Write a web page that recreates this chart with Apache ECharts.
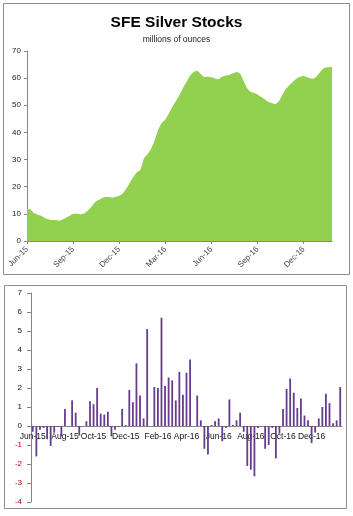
<!DOCTYPE html>
<html>
<head>
<meta charset="utf-8">
<script src="https://cdn.jsdelivr.net/npm/echarts@6/dist/echarts.min.js"></script>
<style>
  html, body { margin: 0; padding: 0; background: #fff; }
  #chart { width: 353px; height: 516px; }
</style>
</head>
<body>
<div id="chart"></div>
<script>
// weekly observations, first week 5 Jun 2015
var firstWeek = '2015-06-05';
var weekCount = 87;

// SFE silver stocks (millions of ounces)
var stocks = [
  11.8, 11.6, 10.2, 9.7, 9.3, 8.5, 8.0, 7.7, 7.7, 7.5,
  7.9, 8.6, 9.2, 10.0, 10.0, 9.8, 10.1, 11.0, 12.3, 14.0,
  15.0, 15.7, 16.2, 16.2, 16.0, 16.3, 16.7, 17.5, 19.3, 21.5,
  23.6, 25.3, 26.3, 30.5, 32.0, 34.0, 37.0, 41.0, 43.5, 44.8,
  47.0, 49.5, 51.6, 53.8, 56.5, 58.7, 61.0, 62.3, 62.6, 61.5,
  60.4, 60.5, 60.3, 59.9, 59.6, 60.5, 61.0, 61.2, 61.7, 62.3,
  61.8, 59.2, 56.5, 55.0, 54.5, 54.0, 53.1, 52.2, 51.3, 50.8,
  50.4, 51.5, 53.8, 56.0, 57.5, 58.7, 59.9, 60.5, 60.8, 60.3,
  59.9, 60.0, 61.2, 62.8, 63.8, 64.0, 64.2
];

// weekly change (millions of ounces)
var changes = [
  -0.3, -1.6, -0.2, -0.1, -0.7, -1.05, -0.35, -0.05, -0.55, 0.9,
  0, 1.35, 0.7, -0.5, 0, 0.25, 1.3, 1.15, 2.0, 0.65,
  0.6, 0.75, -0.55, -0.2, -0.05, 0.9, 0.05, 1.9, 1.25, 3.3,
  1.6, 0.4, 5.1, 0, 2.05, 2.0, 5.7, 2.1, 2.55, 2.4,
  1.35, 2.85, 1.65, 2.8, 3.5, 0, 1.6, 0.3, -1.2, -1.5,
  0.05, 0.25, 0.4, -0.8, -0.1, 1.4, 0.05, 0.3, 0.7, -0.3,
  -2.1, -2.3, -2.65, -0.1, 0, -1.2, -1.0, -0.1, -1.7, -0.4,
  0.9, 1.95, 2.5, 1.75, 0.95, 1.45, 0.55, 0.3, -0.9, -0.35,
  0.4, 1.0, 1.7, 1.2, 0.15, 0.3, 2.05
];

var topTicks = ['Jun-15', 'Sep-15', 'Dec-15', 'Mar-16', 'Jun-16', 'Sep-16', 'Dec-16'];
var bottomTicks = ['Jun-15', 'Aug-15', 'Oct-15', 'Dec-15', 'Feb-16', 'Apr-16', 'Jun-16', 'Aug-16', 'Oct-16', 'Dec-16'];

var monthNames = ['Jan', 'Feb', 'Mar', 'Apr', 'May', 'Jun', 'Jul', 'Aug', 'Sep', 'Oct', 'Nov', 'Dec'];

// category list of weeks
var weeks = [];
var d0 = new Date(firstWeek + 'T00:00:00Z');
for (var i = 0; i < weekCount; i++) {
  var d = new Date(d0.getTime() + i * 7 * 86400000);
  weeks.push(d.toISOString().slice(0, 10));
}
function monthLabel(s) {
  var d = new Date(s + 'T00:00:00Z');
  return monthNames[d.getUTCMonth()] + '-' + String(d.getUTCFullYear()).slice(2);
}
// label only the first week of each listed month
function firstWeekOf(list) {
  return function (idx, val) {
    var lab = monthLabel(weeks[idx]);
    if (list.indexOf(lab) < 0) return false;
    return idx === 0 || monthLabel(weeks[idx - 1]) !== lab;
  };
}

var font = 'Liberation Sans';
var myChart = echarts.init(document.getElementById('chart'));

var option = {
  animation: false,
  backgroundColor: '#fff',
  title: {
    text: 'SFE Silver Stocks',
    subtext: 'millions of ounces',
    left: 'center',
    top: 10,
    itemGap: 4,
    textStyle: { fontFamily: font, fontSize: 15.5, fontWeight: 'bold', color: '#000' },
    subtextStyle: { fontFamily: font, fontSize: 8.5, color: '#222' }
  },
  graphic: [
    { type: 'rect', shape: { x: 3.5, y: 3.5, width: 346, height: 271 },
      style: { fill: null, stroke: '#8c8c8c', lineWidth: 1 } },
    { type: 'rect', shape: { x: 4.5, y: 285.5, width: 342, height: 223 },
      style: { fill: null, stroke: '#8c8c8c', lineWidth: 1 } }
  ],
  grid: [
    { left: 27, right: 21, top: 51, bottom: 275 },
    { left: 31, right: 11, top: 293, bottom: 14 }
  ],
  xAxis: [
    {
      gridIndex: 0,
      type: 'category',
      data: weeks,
      boundaryGap: false,
      axisLine: { lineStyle: { color: '#868686' } },
      axisTick: { interval: firstWeekOf(topTicks), length: 3, lineStyle: { color: '#868686' } },
      axisLabel: {
        interval: firstWeekOf(topTicks),
        formatter: monthLabel,
        rotate: 45,
        margin: 7,
        fontFamily: font,
        fontSize: 8,
        color: '#444'
      }
    },
    {
      // axis drawn on the zero line (4 units above the grid bottom, 19px per unit)
      gridIndex: 1,
      type: 'category',
      data: weeks,
      position: 'bottom',
      offset: -76,
      axisLine: { onZero: false, lineStyle: { color: '#868686' } },
      axisTick: { show: false },
      axisLabel: {
        interval: firstWeekOf(bottomTicks),
        formatter: monthLabel,
        margin: 6,
        fontFamily: font,
        fontSize: 8.5,
        color: '#111'
      }
    }
  ],
  yAxis: [
    {
      gridIndex: 0,
      type: 'value',
      min: 0,
      max: 70,
      interval: 10,
      splitLine: { show: false },
      axisLine: { show: true, lineStyle: { color: '#868686' } },
      axisTick: { show: true, length: 3, lineStyle: { color: '#868686' } },
      axisLabel: { margin: 6, fontFamily: font, fontSize: 8, color: '#222' }
    },
    {
      gridIndex: 1,
      type: 'value',
      min: -4,
      max: 7,
      interval: 1,
      splitLine: { show: false },
      axisLine: { show: true, lineStyle: { color: '#868686' } },
      axisTick: { show: true, length: 4, lineStyle: { color: '#868686' } },
      axisLabel: {
        margin: 9,
        fontFamily: font,
        fontSize: 8,
        color: function (v) { return Number(v) < 0 ? '#c00000' : '#111'; }
      }
    }
  ],
  series: [
    {
      name: 'SFE Silver Stocks',
      type: 'line',
      xAxisIndex: 0,
      yAxisIndex: 0,
      data: stocks,
      showSymbol: false,
      smooth: 0.2,
      lineStyle: { width: 0 },
      areaStyle: { color: '#92d050', opacity: 1 }
    },
    {
      name: 'Weekly change',
      type: 'bar',
      xAxisIndex: 1,
      yAxisIndex: 1,
      data: changes,
      barWidth: 1.8,
      itemStyle: { color: '#663c8e' }
    }
  ]
};
myChart.setOption(option);
</script>
</body>
</html>
